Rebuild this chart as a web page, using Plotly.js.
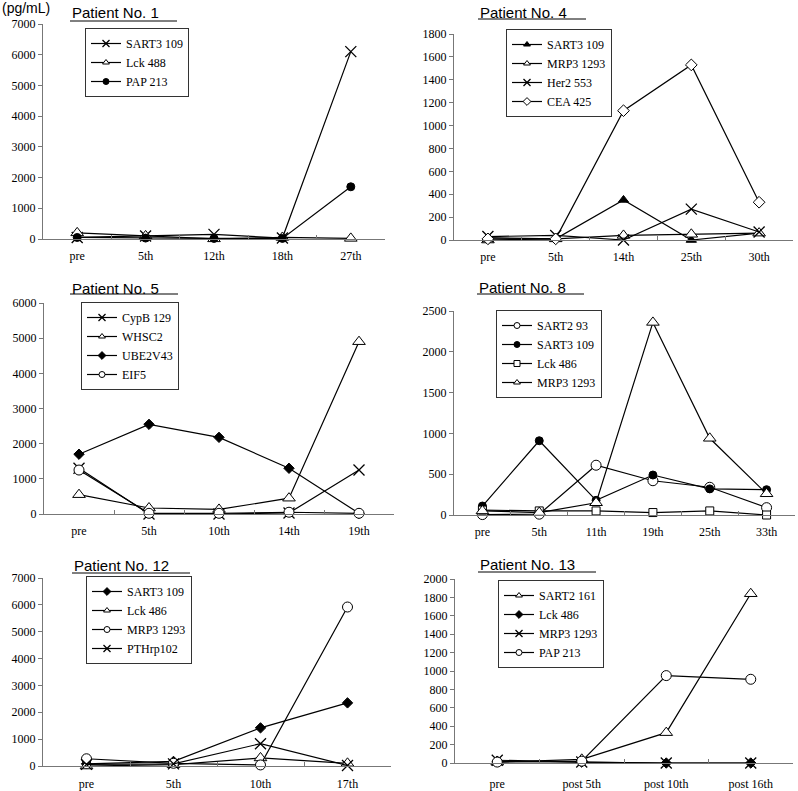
<!DOCTYPE html>
<html><head><meta charset="utf-8">
<script src="https://cdn.plot.ly/plotly-3.0.1.min.js"></script>
<style>html,body{margin:0;padding:0;background:#fff}#chart{width:798px;height:791px}</style>
</head><body><div id="chart"></div>
<script>
// ---- data ----
const p1Cats = ['pre','5th','12th','18th','27th'];
const p1SART3_109 = [50,100,150,30,6100];
const p1Lck488 = [200,100,5,50,20];
const p1PAP213 = [50,30,20,20,1700];

const p4Cats = ['pre','5th','14th','25th','30th'];
const p4SART3_109 = [20,10,350,0,60];
const p4MRP3_1293 = [0,10,40,50,60];
const p4Her2_553 = [30,40,0,270,70];
const p4CEA425 = [10,10,1130,1530,330];

const p5Cats = ['pre','5th','10th','14th','19th'];
const p5CypB129 = [1300,0,0,30,1250];
const p5WHSC2 = [550,170,130,450,4900];
const p5UBE2V43 = [1700,2550,2180,1300,20];
const p5EIF5 = [1250,20,20,50,20];

const p8Cats = ['pre','5th','11th','19th','25th','33th'];
const p8SART2_93 = [5,10,610,420,340,90];
const p8SART3_109 = [110,910,180,490,320,310];
const p8Lck486 = [60,50,50,30,50,0];
const p8MRP3_1293 = [50,30,150,2360,940,260];

const p12Cats = ['pre','5th','10th','17th'];
const p12SART3_109 = [80,170,1420,2350];
const p12Lck486 = [0,50,300,100];
const p12MRP3_1293 = [270,100,40,5920];
const p12PTHrp102 = [60,80,830,20];

const p13Cats = ['pre','post 5th','post 10th','post 16th'];
const p13SART2_161 = [10,40,330,1840];
const p13Lck486 = [20,10,0,0];
const p13MRP3_1293 = [30,10,0,0];
const p13PAP213 = [10,20,950,910];

const titles = ['Patient No. 1','Patient No. 4','Patient No. 5','Patient No. 8','Patient No. 12','Patient No. 13'];
const unitLabel = '(pg/mL)';

// ---- styles ----
const W = 798, H = 791;
const px = v => v / W, py = v => 1 - v / H;
const MK = {
  x:        {symbol:'x-thin', size:11, color:'#000', line:{color:'#000', width:1.3}},
  triOpen:  {symbol:'triangle-up', size:11, color:'#fff', line:{color:'#000', width:1}},
  triFill:  {symbol:'triangle-up', size:9, color:'#000', line:{color:'#000', width:1}},
  circFill: {symbol:'circle', size:8, color:'#000', line:{color:'#000', width:1}},
  circOpen: {symbol:'circle', size:10, color:'#fff', line:{color:'#000', width:1}},
  diaOpen:  {symbol:'diamond', size:9, color:'#fff', line:{color:'#000', width:1}},
  diaFill:  {symbol:'diamond', size:8, color:'#000', line:{color:'#000', width:1}},
  sqOpen:   {symbol:'square', size:8, color:'#fff', line:{color:'#000', width:1}}
};
const LEG_SIZE = 6;

const panels = [
  {cats:p1Cats, series:[['SART3 109',p1SART3_109,'x'],['Lck 488',p1Lck488,'triOpen'],['PAP 213',p1PAP213,'circFill']],
   ymax:7000, dtick:1000, xd:[43,385], yb:239, yt:24, title:[70,13,177,21], leg:[85,28], stand:6},
  {cats:p4Cats, series:[['SART3 109',p4SART3_109,'triFill'],['MRP3 1293',p4MRP3_1293,'triOpen'],['Her2 553',p4Her2_553,'x'],['CEA 425',p4CEA425,'diaOpen']],
   ymax:1800, dtick:200, xd:[454,793], yb:240, yt:34, title:[478,12,586,19], leg:[506,29], stand:6},
  {cats:p5Cats, series:[['CypB 129',p5CypB129,'x'],['WHSC2',p5WHSC2,'triOpen'],['UBE2V43',p5UBE2V43,'diaFill'],['EIF5',p5EIF5,'circOpen']],
   ymax:6000, dtick:1000, xd:[44,394], yb:514, yt:303, title:[70,288,178,294], leg:[81,302], stand:6},
  {cats:p8Cats, series:[['SART2 93',p8SART2_93,'circOpen'],['SART3 109',p8SART3_109,'circFill'],['Lck 486',p8Lck486,'sqOpen'],['MRP3 1293',p8MRP3_1293,'triOpen']],
   ymax:2500, dtick:500, xd:[454,795], yb:515, yt:311, title:[477,287,584,294], leg:[496,310], stand:6},
  {cats:p12Cats, series:[['SART3 109',p12SART3_109,'diaFill'],['Lck 486',p12Lck486,'triOpen'],['MRP3 1293',p12MRP3_1293,'circOpen'],['PTHrp102',p12PTHrp102,'x']],
   ymax:7000, dtick:1000, xd:[43,391], yb:766, yt:578, title:[72,565,190,573], leg:[86,576], stand:7},
  {cats:p13Cats, series:[['SART2 161',p13SART2_161,'triOpen'],['Lck 486',p13Lck486,'diaFill'],['MRP3 1293',p13MRP3_1293,'x'],['PAP 213',p13PAP213,'circOpen']],
   ymax:2000, dtick:200, xd:[455,793], yb:763, yt:579, title:[478,564,596,572], leg:[498,580], stand:10}
];

const serif = '"Liberation Serif", "Times New Roman", Times, serif';
const tickFont = {family:serif, size:12, color:'#000'};
const legFont = {family:serif, size:12, color:'#000'};
const titleFont = {family:'"Liberation Sans", Arial, sans-serif', size:15, color:'#000'};
const axisColor = '#777';

const data = [];
const layout = {
  width: W, height: H, margin:{l:0,r:0,t:0,b:0}, paper_bgcolor:'#fff', plot_bgcolor:'#fff',
  showlegend:true, annotations:[], shapes:[], font:{family:serif, size:12, color:'#000'}
};

panels.forEach((p, i) => {
  const n = i + 1;
  const xa = n === 1 ? 'xaxis' : 'xaxis' + n;
  const ya = n === 1 ? 'yaxis' : 'yaxis' + n;
  const xr = n === 1 ? 'x' : 'x' + n;
  const yr = n === 1 ? 'y' : 'y' + n;
  const yh = 'y' + (n + 6);           // hidden overlay axis used only for legend symbols
  const yha = 'yaxis' + (n + 6);
  const lg = n === 1 ? 'legend' : 'legend' + n;
  p.series.forEach(s => {
    data.push({
      type:'scatter', mode:'lines+markers', name:s[0], x:p.cats, y:s[1],
      xaxis:xr, yaxis:yr, showlegend:false, cliponaxis:false,
      line:{color:'#000', width:1.2}, marker:MK[s[2]]
    });
  });
  // legend entries: same series on a hidden overlay axis whose range excludes the data,
  // so only the (smaller) legend symbols are visible
  p.series.forEach(s => {
    const m = MK[s[2]];
    data.push({
      type:'scatter', mode:'lines+markers', name:s[0], x:p.cats, y:s[1],
      xaxis:xr, yaxis:yh, legend:lg, showlegend:true, cliponaxis:true,
      line:{color:'#000', width:1.2}, hoverinfo:'skip',
      marker:{symbol:m.symbol, size:(s[2]==='x'?7:LEG_SIZE), color:m.color, line:m.line}
    });
  });
  layout[xa] = {
    domain:[px(p.xd[0]), px(p.xd[1])], anchor:yr, type:'category',
    range:[-0.5, p.cats.length - 0.5], showline:true, linecolor:axisColor, linewidth:1,
    ticks:'inside', tickson:'boundaries', ticklen:4, tickcolor:axisColor,
    showgrid:false, zeroline:false, tickfont:tickFont, ticklabelstandoff:p.stand, fixedrange:true
  };
  layout[ya] = {
    domain:[py(p.yb), py(p.yt)], anchor:xr, range:[0, p.ymax], dtick:p.dtick, tick0:0,
    showline:true, linecolor:axisColor, linewidth:1, ticks:'outside', ticklen:4, tickcolor:axisColor,
    showgrid:false, zeroline:false, tickfont:tickFont, fixedrange:true
  };
  layout[yha] = {
    overlaying:yr, anchor:xr, range:[-1e7, -0.9e7], visible:false, showgrid:false, zeroline:false, fixedrange:true
  };
  layout[lg] = {
    x:px(p.leg[0]), y:py(p.leg[1]), xanchor:'left', yanchor:'top',
    bordercolor:'#333', borderwidth:1, bgcolor:'#fff', font:legFont,
    tracegroupgap:0, itemclick:false, itemdoubleclick:false
  };
  layout.annotations.push({
    text:titles[i], xref:'paper', yref:'paper', x:px(p.title[0]), y:py(p.title[1]),
    xanchor:'left', yanchor:'middle', showarrow:false, font:titleFont
  });
  layout.shapes.push({
    type:'line', xref:'paper', yref:'paper', x0:px(p.title[0]), x1:px(p.title[2]),
    y0:py(p.title[3]), y1:py(p.title[3]), line:{color:'#000', width:1}
  });
});

layout.annotations.push({
  text:unitLabel, xref:'paper', yref:'paper', x:0, y:py(8), xanchor:'left', yanchor:'middle',
  showarrow:false, font:{family:'"Liberation Sans", Arial, sans-serif', size:14, color:'#000'}
});

Plotly.newPlot('chart', data, layout, {displayModeBar:false, staticPlot:true});
</script></body></html>
